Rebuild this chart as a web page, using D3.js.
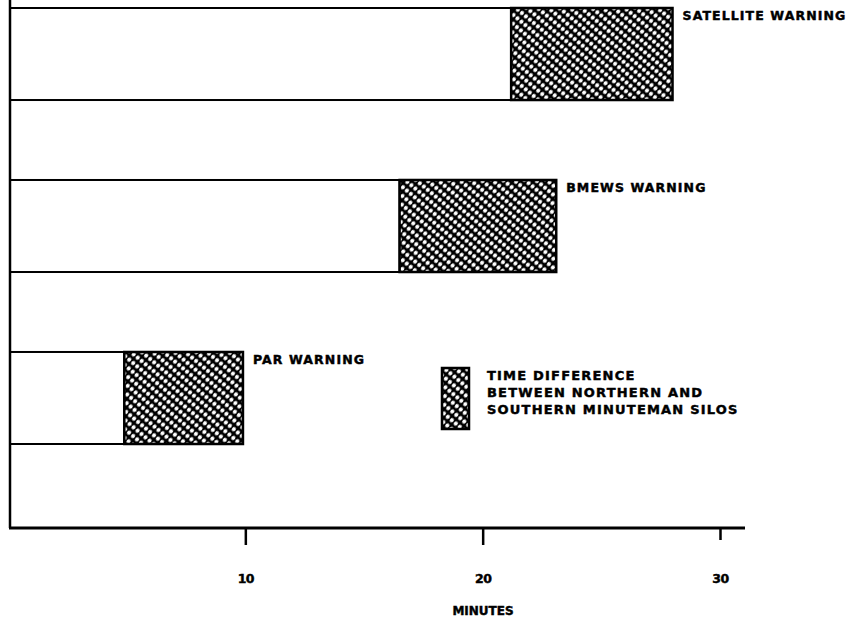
<!DOCTYPE html>
<html>
<head>
<meta charset="utf-8">
<script src="https://cdn.jsdelivr.net/npm/d3@7"></script>
<style>
  html, body { margin: 0; padding: 0; background: #fff; }
  text { font-family: "DejaVu Sans", "Liberation Sans", sans-serif; font-weight: bold; fill: #000; stroke: #000; stroke-width: 0.45px; }
</style>
</head>
<body>
<svg id="chart" width="860" height="622"></svg>
<script>
// ---- data ----
const categories = ["SATELLITE WARNING", "BMEWS WARNING", "PAR WARNING"];
const southernMinutes = [21.2, 16.5, 4.9];   // warning time, southern silos (end of white part)
const northernMinutes = [28.0, 23.1, 9.9];   // warning time, northern silos (end of hatched part)
const tickValues = [10, 20, 30];
const axisTitle = "MINUTES";
const legendLines = ["TIME DIFFERENCE", "BETWEEN NORTHERN AND", "SOUTHERN MINUTEMAN SILOS"];

const svg = d3.select("#chart");

// pattern: black with white dots on a diagonal grid
const defs = svg.append("defs");
const pat = defs.append("pattern")
  .attr("id", "hatch").attr("patternUnits", "userSpaceOnUse")
  .attr("width", 5.2).attr("height", 7)
  .attr("patternTransform", "rotate(40)");
pat.append("rect").attr("width", 5.2).attr("height", 7).attr("fill", "#000");
pat.append("ellipse").attr("cx", 2.6).attr("cy", 3.5).attr("rx", 1.9).attr("ry", 2.2).attr("fill", "#fff");

const x = d3.scaleLinear().domain([0, 30]).range([8, 720]);
const y = d3.scaleBand().domain(categories).range([8, 444]).paddingInner(0.465).paddingOuter(0);
const axisY = 528, axisX = 10;

const rows = categories.map((c, i) => ({ c, s: southernMinutes[i], n: northernMinutes[i] }));

const g = svg.append("g");
// white portion
g.selectAll("rect.white").data(rows).join("rect")
  .attr("class", "white")
  .attr("x", axisX).attr("y", d => y(d.c))
  .attr("width", d => x(d.s) - axisX).attr("height", y.bandwidth())
  .attr("fill", "#fff").attr("stroke", "#000").attr("stroke-width", 2);
// hatched portion
g.selectAll("rect.hatch").data(rows).join("rect")
  .attr("class", "hatch")
  .attr("x", d => x(d.s)).attr("y", d => y(d.c))
  .attr("width", d => x(d.n) - x(d.s)).attr("height", y.bandwidth())
  .attr("fill", "url(#hatch)").attr("stroke", "#000").attr("stroke-width", 2.5);
// labels
g.selectAll("text.lab").data(rows).join("text")
  .attr("class", "lab")
  .attr("x", d => x(d.n) + 10).attr("y", d => y(d.c) + 12)
  .attr("font-size", 12.5).attr("letter-spacing", 1.1)
  .text(d => d.c);

// axes lines
svg.append("line").attr("x1", axisX).attr("x2", axisX).attr("y1", 0).attr("y2", axisY)
  .attr("stroke", "#000").attr("stroke-width", 2.5);
svg.append("line").attr("x1", axisX - 1).attr("x2", 745).attr("y1", axisY).attr("y2", axisY)
  .attr("stroke", "#000").attr("stroke-width", 3);

const xAxis = d3.axisBottom(x).tickValues(tickValues).tickSize(17).tickPadding(29).tickFormat(d3.format("d"));
const ax = svg.append("g").attr("transform", `translate(0,${axisY})`).call(xAxis);
ax.select(".domain").remove();
ax.selectAll(".tick line").attr("stroke", "#000").attr("stroke-width", 2.5)
  .attr("y2", d => d === 30 ? 12 : 17);
ax.selectAll(".tick text").attr("font-size", 12.5).attr("font-family", "DejaVu Sans Condensed, DejaVu Sans")
  .attr("font-weight", "bold").attr("fill", "#000").attr("letter-spacing", -0.5);

svg.append("text").attr("x", 483).attr("y", 615).attr("text-anchor", "middle")
  .attr("font-size", 12).attr("font-family", "DejaVu Sans Condensed, DejaVu Sans").text(axisTitle);

// legend
svg.append("rect").attr("x", 442).attr("y", 368).attr("width", 27).attr("height", 61)
  .attr("fill", "url(#hatch)").attr("stroke", "#000").attr("stroke-width", 2.5);
svg.append("g").selectAll("text").data(legendLines).join("text")
  .attr("x", 487).attr("y", (d, i) => 380 + i * 17)
  .attr("font-size", 13).attr("letter-spacing", 1.2)
  .text(d => d);
</script>
</body>
</html>
